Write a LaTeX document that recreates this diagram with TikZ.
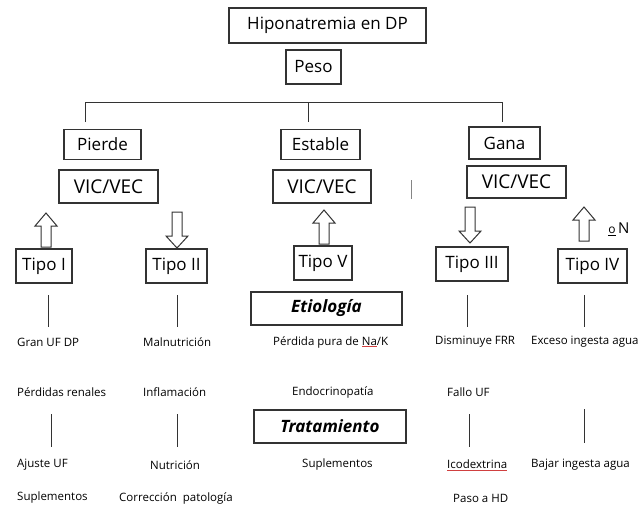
\documentclass[tikz,border=0pt]{standalone}
\usepackage{fontspec}
\setmainfont{Open Sans}
\definecolor{linec}{HTML}{333333}
\definecolor{spell}{HTML}{D04040}
\newcommand\spellul[1]{{\color{spell}\underline{\color{black}#1}}}
\begin{document}
\begin{tikzpicture}[x=1pt,y=-1pt,
  bx/.style={draw=linec, line width=1.1pt, inner sep=0pt, align=center},
  big/.style={font=\fontsize{17}{20}\selectfont},
  vic/.style={font=\fontsize{19}{22}\selectfont},
  sm/.style={font=\fontsize{11.5}{14}\selectfont, anchor=west, inner sep=0pt},
  hd/.style={font=\fontsize{17}{20}\selectfont\bfseries\itshape},
  ln/.style={draw=linec, line width=1pt},
  arr/.style={draw=linec, line width=1pt, fill=white, line join=miter},
  uparrow/.pic={\path[arr] (-5,0) -- (-5,-21) -- (-11,-21) -- (0,-34) -- (11,-21) -- (5,-21) -- (5,0) -- cycle;},
  downarrow/.pic={\path[arr] (-5,0) -- (-5,24) -- (-11,24) -- (0,36) -- (11,24) -- (5,24) -- (5,0) -- cycle;}
]
\useasboundingbox (0,0) rectangle (640,509);

% top
\node[bx,big,minimum width=197,minimum height=35] (title) at (327.5,25.5) {Hiponatremia en DP};
\node[bx,big,minimum width=55,minimum height=34] (peso) at (313.5,67) {Peso};

% tree
\coordinate (hl) at (85,102);
\coordinate (hm) at (308,102);
\coordinate (hr) at (502,102);
\coordinate (hlb) at (85,122);
\coordinate (hmb) at (308,122);
\coordinate (hrb) at (502,122);
\draw[ln] (hlb) -- (hl) -- (hr) -- (hrb);
\draw[ln] (hm) -- (hmb);

% level 2
\node[bx,big,minimum width=77,minimum height=30] (pierde) at (102.5,144.5) {Pierde};
\node[bx,big,minimum width=79,minimum height=30] (estable) at (320.5,144.5) {Estable};
\node[bx,big,minimum width=71,minimum height=32] (gana) at (504.5,143) {Gana};

\node[bx,vic,minimum width=99,minimum height=33] (vic1) at (108.5,186.5) {VIC/VEC};
\node[bx,vic,minimum width=98,minimum height=33] (vic2) at (322,186.5) {VIC/VEC};
\node[bx,vic,minimum width=99,minimum height=32] (vic3) at (516.5,182) {VIC/VEC};
\coordinate (sl1) at (411,180);
\coordinate (sl2) at (411,199);
\draw[draw=linec!60, line width=0.8pt] (sl1) -- (sl2);

% arrows
\pic at (46,247) {uparrow};
\pic at (177,212) {downarrow};
\pic at (324,244) {uparrow};
\pic at (470,207) {downarrow};
\pic at (584,241) {uparrow};
\node[font=\fontsize{15}{18}\selectfont, inner sep=0pt] (oN) at (619,229) {\underline{\fontsize{12}{14}\selectfont o}\,N};

% tipos
\node[bx,big,minimum width=56,minimum height=34] (t1) at (44,266) {Tipo I};
\node[bx,big,minimum width=61,minimum height=34] (t2) at (176.5,266) {Tipo II};
\node[bx,big,minimum width=58,minimum height=34] (t5) at (323,263) {Tipo V};
\node[bx,big,minimum width=72,minimum height=34] (t3) at (472,264) {Tipo III};
\node[bx,big,minimum width=69,minimum height=34] (t4) at (592.5,266) {Tipo IV};

% etiologia
\node[bx,hd,minimum width=151,minimum height=33] (etio) at (326.5,308.5) {Etiología};
\foreach \x/\n in {48/a,177/b,467/c,584/d}{
  \coordinate (e\n1) at (\x,295);
  \coordinate (e\n2) at (\x,327);
  \draw[ln] (e\n1) -- (e\n2);
}

\node[sm] (r1a) at (17,342) {Gran UF DP};
\node[sm] (r1b) at (143,342) {Malnutrición};
\node[sm] (r1c) at (273,342) {Pérdida pura de \spellul{Na}/K};
\node[sm] (r1d) at (435,342) {Disminuye FRR};
\node[sm] (r1e) at (531,342) {Exceso ingesta agua};

\node[sm] (r2a) at (17,392) {Pérdidas renales};
\node[sm] (r2b) at (143,392) {Inflamación};
\node[sm] (r2c) at (292,392) {Endocrinopatía};
\node[sm] (r2d) at (447,392) {Fallo UF};

% tratamiento
\node[bx,hd,minimum width=152,minimum height=33] (trat) at (330,426.5) {Tratamiento};
\foreach \x/\n/\t/\b in {51/a/414/447,177/b/414/447,469/c/414/447,584/d/409/443}{
  \coordinate (f\n1) at (\x,\t);
  \coordinate (f\n2) at (\x,\b);
  \draw[ln] (f\n1) -- (f\n2);
}

\node[sm] (r3a) at (17,465) {Ajuste UF};
\node[sm] (r3b) at (150,465) {Nutrición};
\node[sm] (r3c) at (302,465) {Suplementos};
\node[sm] (r3d) at (447,465) {\spellul{Icodextrina}};
\node[sm] (r3e) at (531,465) {Bajar ingesta agua};

\node[sm] (r4a) at (17,498) {Suplementos};
\node[sm] (r4b) at (119,498) {Corrección\ \ patología};
\node[sm] (r4d) at (453,498) {Paso a HD};
\end{tikzpicture}
\end{document}
